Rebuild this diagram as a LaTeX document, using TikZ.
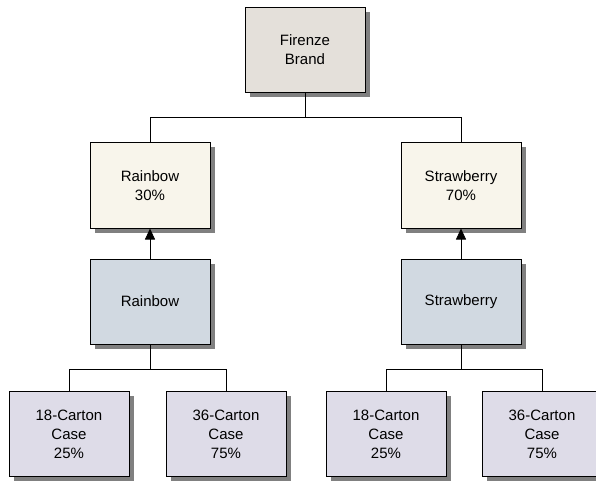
\documentclass[tikz,border=0pt]{standalone}
\usepackage{fontspec}
\setmainfont{Liberation Sans}
\definecolor{BrandGrey}{RGB}{228,224,218}
\definecolor{ShareCream}{RGB}{248,245,235}
\definecolor{FlavourBlue}{RGB}{209,217,225}
\definecolor{CaseLilac}{RGB}{222,220,232}
\definecolor{ShadowGrey}{RGB}{128,128,128}
\usetikzlibrary{positioning, shadows, arrows.meta}

\begin{document}
\begin{tikzpicture}[x=1pt, y=-1pt,
	box/.style={draw=black, line width=1pt, minimum width=120pt, minimum height=85pt, inner sep=0pt, align=center, font=\fontsize{15}{19}\selectfont, general shadow={fill=ShadowGrey, shadow xshift=4.5pt, shadow yshift=-4.5pt}},
	link/.style={draw=black, line width=0.8pt},
	]
	\useasboundingbox (0,0) rectangle (596,481);
	% brand
	\node (brand) at (305,50) [box, fill=BrandGrey] {Firenze\\Brand};
	% shares
	\node (rb30) at (150,185.5) [box, fill=ShareCream] {Rainbow\\30\%};
	\node (sb70) at (461,185.5) [box, fill=ShareCream] {Strawberry\\70\%};
	% flavours
	\node (rb) at (150,301.5) [box, fill=FlavourBlue] {Rainbow};
	\node (sb) at (461,301.5) [box, fill=FlavourBlue] {Strawberry};
	% cases
	\node (rb18) at (69,434) [box, fill=CaseLilac] {18-Carton\\Case\\25\%};
	\node (rb36) at (226,434) [box, fill=CaseLilac] {36-Carton\\Case\\75\%};
	\node (sb18) at (386,434) [box, fill=CaseLilac] {18-Carton\\Case\\25\%};
	\node (sb36) at (542,434) [box, fill=CaseLilac] {36-Carton\\Case\\75\%};
	% buses
	\coordinate (topbus) at (305,117);
	\coordinate (rbbus) at (150,369);
	\coordinate (sbbus) at (461,369);
	\draw[link] (brand) -- (topbus) -| (rb30);
	\draw[link] (topbus) -| (sb70);
	\draw[link, -{Triangle[length=11pt, width=10pt]}] (rb) -- (rb30);
	\draw[link, -{Triangle[length=11pt, width=10pt]}] (sb) -- (sb70);
	\draw[link] (rb) -- (rbbus) -| (rb18);
	\draw[link] (rbbus) -| (rb36);
	\draw[link] (sb) -- (sbbus) -| (sb18);
	\draw[link] (sbbus) -| (sb36);
\end{tikzpicture}
\end{document}
